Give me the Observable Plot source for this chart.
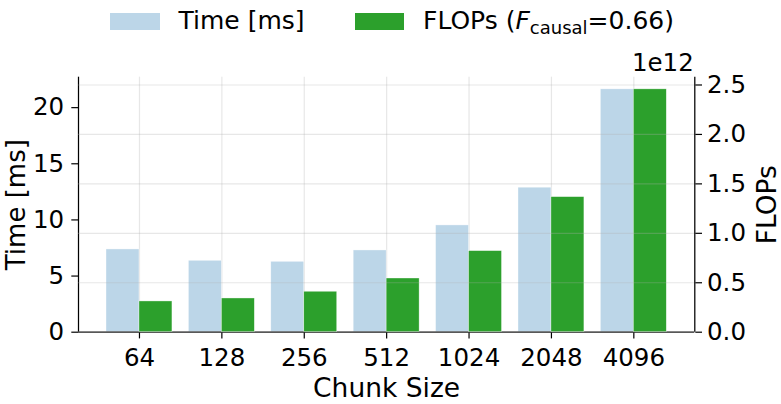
<!DOCTYPE html>
<html>
<head>
<meta charset="utf-8">
<script src="https://cdn.jsdelivr.net/npm/d3@7"></script>
<script src="https://cdn.jsdelivr.net/npm/@observablehq/plot@0.6"></script>
<style>
  html, body { margin: 0; padding: 0; background: white; }
  #wrap { position: relative; width: 781px; height: 404px; overflow: hidden; font-family: "DejaVu Sans", sans-serif; }
  #wrap svg { position: absolute; left: 0; top: 0; }
  .patch { position: absolute; top: 12.7px; height: 17.3px; width: 50px; }
  .ltxt { position: absolute; top: 6px; font-size: 25px; line-height: 30px; white-space: nowrap; color: black; }
  .ltxt i { font-style: oblique; }
  .ltxt sub { font-size: 18px; vertical-align: -5px; line-height: 0; }
</style>
</head>
<body>
<div id="wrap"></div>
<script>
const chunks = ["64", "128", "256", "512", "1024", "2048", "4096"];
const timeMs = [7.37, 6.36, 6.27, 7.28, 9.51, 12.87, 21.63];
const flops = [0.311e12, 0.341e12, 0.409e12, 0.543e12, 0.820e12, 1.366e12, 2.456e12];
const timeTicks = [0, 5, 10, 15, 20];
const flopsTicks = [0, 0.5e12, 1.0e12, 1.5e12, 2.0e12, 2.5e12];
const seriesNames = ["Time [ms]", "FLOPs"];
const colors = ["#bcd6e8", "#2ca02c"];

const data = chunks.map((c, i) => ({i, chunk: c, time: timeMs[i], flops: flops[i]}));
const idx = d3.range(chunks.length);
const barW = 0.4;
const span = chunks.length - 1 + 2 * barW;
const xDomain = [-barW - span * 0.05, chunks.length - 1 + barW + span * 0.05];
const tMax = d3.max(timeMs) * 1.05;
const fMax = d3.max(flops) * 1.05;

const common = {
  width: 781, height: 404,
  marginLeft: 78, marginRight: 86.7, marginTop: 76.7, marginBottom: 72.3,
  x: {type: "linear", domain: xDomain, axis: null},
};
const gridStyle = {stroke: "#b0b0b0", strokeOpacity: 0.3, strokeWidth: 1.2};

const p1 = Plot.plot({
  ...common,
  y: {domain: [0, tMax], axis: null},
  style: {fontFamily: "DejaVu Sans", fontSize: "24.5px", background: "white", color: "black"},
  marks: [
    Plot.gridX({ticks: idx, ...gridStyle}),
    Plot.rect(data, {x1: d => d.i - barW, x2: d => d.i, y1: 0, y2: "time", fill: colors[0], stroke: "white", strokeWidth: 0.6, strokeOpacity: 0.6}),
    Plot.axisX({ticks: idx, tickFormat: i => chunks[i], tickSize: 6.7, tickPadding: 9.2, fontSize: 24.5, strokeWidth: 1.2, label: null}),
    Plot.axisY({ticks: timeTicks, anchor: "left", tickSize: 6.7, tickPadding: 7.6, fontSize: 24.5, strokeWidth: 1.2, label: null}),
    Plot.ruleX([xDomain[0]], {strokeWidth: 1.25}),
    Plot.ruleY([0], {strokeWidth: 1.25}),
    Plot.text(["Chunk Size"], {frameAnchor: "bottom", lineAnchor: "bottom", dy: 64.8, fontSize: 26.5}),
    Plot.text([seriesNames[0]], {frameAnchor: "left", rotate: -90, textAnchor: "middle", lineAnchor: "bottom", dx: -53.8, fontSize: 26})
  ]
});

const p2 = Plot.plot({
  ...common,
  y: {domain: [0, fMax], axis: null},
  style: {fontFamily: "DejaVu Sans", fontSize: "24.5px", background: "transparent", color: "black"},
  marks: [
    Plot.rect(data, {x1: d => d.i, x2: d => d.i + barW, y1: 0, y2: "flops", fill: colors[1], stroke: "white", strokeWidth: 0.6, strokeOpacity: 0.6}),
    Plot.gridY({ticks: flopsTicks, ...gridStyle}),
    Plot.axisY({ticks: flopsTicks, anchor: "right", tickFormat: d => (d / 1e12).toFixed(1), tickSize: 6.7, tickPadding: 5.5, fontSize: 24.5, strokeWidth: 1.2, label: null}),
    Plot.ruleX([xDomain[1]], {strokeWidth: 1.25}),
    Plot.text(["1e12"], {frameAnchor: "top-right", textAnchor: "end", lineAnchor: "bottom", dy: -6, dx: -1, fontSize: 24.5}),
    Plot.text([seriesNames[1]], {frameAnchor: "right", rotate: -90, textAnchor: "middle", lineAnchor: "bottom", dx: 80.7, fontSize: 26.5})
  ]
});

const wrap = document.getElementById("wrap");
wrap.appendChild(p1);
wrap.appendChild(p2);

const leg = document.createElement("div");
leg.innerHTML = `
  <div class="patch" style="left:110px;background:${colors[0]}"></div>
  <div class="ltxt" style="left:178.5px">${seriesNames[0]}</div>
  <div class="patch" style="left:355px;width:49.3px;background:${colors[1]}"></div>
  <div class="ltxt" style="left:423px">${seriesNames[1]} (<i>F</i><sub>causal</sub>=0.66)</div>`;
wrap.appendChild(leg);
</script>
</body>
</html>
